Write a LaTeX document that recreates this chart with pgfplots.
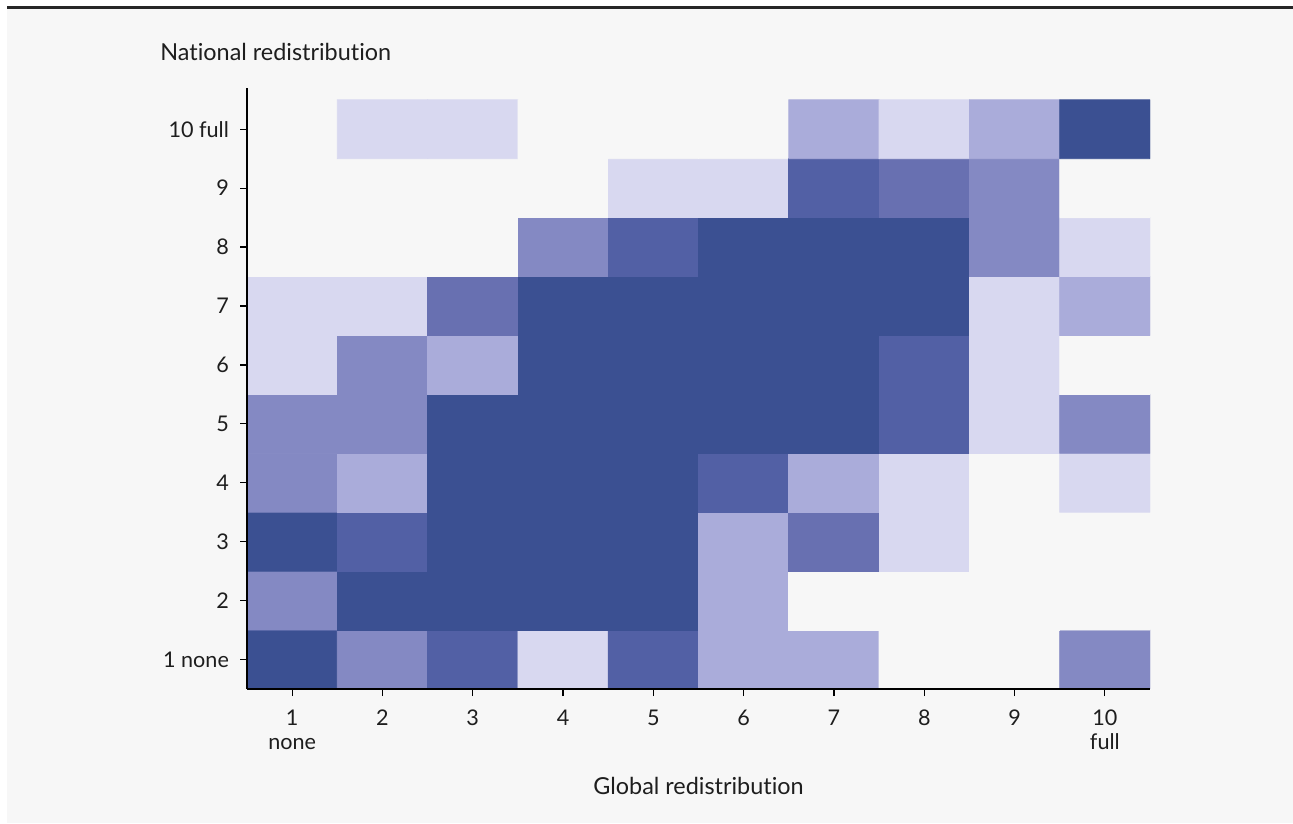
\documentclass[border=0pt]{standalone}
\usepackage{pgfplots}
\pgfplotsset{compat=1.18}
\usepackage{pgfplotstable}
\usepackage{fontspec}
\setmainfont{Lato}[Ligatures={NoCommon}]
\definecolor{bg}{HTML}{F7F7F7}
\definecolor{txt}{HTML}{1E1E1E}
\pgfplotstableread{
x y c
1 1 6
2 1 3
3 1 5
4 1 1
5 1 5
6 1 2
7 1 2
8 1 0
9 1 0
10 1 3
1 2 3
2 2 6
3 2 6
4 2 6
5 2 6
6 2 2
7 2 0
8 2 0
9 2 0
10 2 0
1 3 6
2 3 5
3 3 6
4 3 6
5 3 6
6 3 2
7 3 4
8 3 1
9 3 0
10 3 0
1 4 3
2 4 2
3 4 6
4 4 6
5 4 6
6 4 5
7 4 2
8 4 1
9 4 0
10 4 1
1 5 3
2 5 3
3 5 6
4 5 6
5 5 6
6 5 6
7 5 6
8 5 5
9 5 1
10 5 3
1 6 1
2 6 3
3 6 2
4 6 6
5 6 6
6 6 6
7 6 6
8 6 5
9 6 1
10 6 0
1 7 1
2 7 1
3 7 4
4 7 6
5 7 6
6 7 6
7 7 6
8 7 6
9 7 1
10 7 2
1 8 0
2 8 0
3 8 0
4 8 3
5 8 5
6 8 6
7 8 6
8 8 6
9 8 3
10 8 1
1 9 0
2 9 0
3 9 0
4 9 0
5 9 1
6 9 1
7 9 5
8 9 4
9 9 3
10 9 0
1 10 0
2 10 1
3 10 1
4 10 0
5 10 0
6 10 0
7 10 2
8 10 1
9 10 2
10 10 6
}\heat
\begin{document}
\begin{tikzpicture}
\useasboundingbox (0,0) rectangle (646.5pt,411.5pt);
\fill[white] (0,0) rectangle (646.5pt,411.5pt);
\fill[bg] (3.5pt,0) rectangle (646.5pt,408pt);
\draw[line width=1.5pt, black!85] (3.5pt,407.75pt) -- (646.5pt,407.75pt);
\node[anchor=base west, font=\fontsize{11.7}{13}\selectfont, text=txt, inner sep=0pt] at (80pt,381pt) {National redistribution};
\begin{axis}[
  at={(123.5pt,67pt)}, anchor=south west,
  scale only axis, width=451.5pt, height=300.5pt,
  xmin=0.5, xmax=10.5, ymin=0.5, ymax=10.7,
  axis x line*=bottom, axis y line*=left,
  axis line style={-, line width=1pt, black},
  axis on top,
  tick align=outside, major tick length=3.5pt,
  tick style={black, line width=0.6pt},
  xtick={1,...,10}, ytick={1,...,10},
  xticklabels={{1\\none},2,3,4,5,6,7,8,9,{10\\full}},
  yticklabels={1 none,2,3,4,5,6,7,8,9,10 full},
  xticklabel style={align=center, font=\fontsize{10.8}{11.8}\selectfont, text=txt, yshift=-3.5pt},
  yticklabel style={font=\fontsize{10.8}{11.8}\selectfont, text=txt, xshift=-2pt},
  xlabel={Global redistribution},
  xlabel style={font=\fontsize{11.7}{13}\selectfont, text=txt, yshift=-7pt},
  colormap={lv}{rgb255=(247,247,247) rgb255=(216,216,240) rgb255=(170,172,218) rgb255=(132,137,195) rgb255=(104,112,177) rgb255=(82,96,165) rgb255=(59,80,146)},
  colormap access=direct,
]
\addplot[matrix plot*, mesh/cols=10, point meta=explicit] table[x=x, y=y, meta=c] {\heat};
\end{axis}
\end{tikzpicture}
\end{document}
